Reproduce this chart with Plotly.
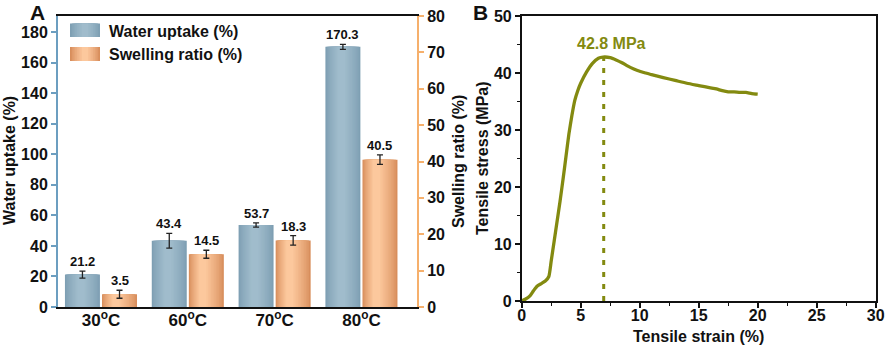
import plotly.graph_objects as go

# ---------------- data ----------------
categories = ["30<sup>o</sup>C", "60<sup>o</sup>C", "70<sup>o</sup>C", "80<sup>o</sup>C"]
water_uptake = [21.2, 43.4, 53.7, 170.3]
water_err = [2.3, 4.8, 1.4, 1.6]
swelling_ratio = [3.5, 14.5, 18.3, 40.5]
swelling_err = [1.1, 1.1, 1.3, 1.3]

strain = [0, 0.3, 0.7, 1.0, 1.3, 1.7, 2.0, 2.3, 2.5, 2.75, 3.0, 3.25, 3.5, 3.75, 4.0,
          4.25, 4.5, 4.75, 5.0, 5.5, 6.0, 6.5, 6.9, 7.5, 8.0, 8.5, 9.0, 9.5, 10.0,
          10.5, 11.0, 12.0, 13.0, 14.0, 15.0, 16.0, 16.5, 17.0, 17.5, 18.0, 18.5,
          19.0, 19.5, 20.0]
stress = [0, 0.3, 0.9, 1.8, 2.6, 3.1, 3.5, 4.3, 7.0, 10.5, 14.0, 17.5, 21.3, 25.3, 29.3,
          32.5, 35.2, 36.9, 38.2, 40.2, 41.7, 42.6, 42.8, 42.7, 42.3, 41.8, 41.2, 40.7,
          40.3, 40.0, 39.7, 39.2, 38.7, 38.2, 37.8, 37.4, 37.2, 36.9, 36.7, 36.7, 36.6,
          36.6, 36.4, 36.3]
peak_strain = 6.95
peak_stress = 42.8

# ---------------- style ----------------
W, H = 886, 347
FONT = "Liberation Sans, Arial, sans-serif"
BLUE_AX = "#6c9ec0"
ORANGE_AX = "#f6b06c"
WATER_EDGE, WATER_MID = (126, 159, 179), (160, 188, 204)
SWELL_EDGE, SWELL_MID = (216, 142, 92), (252, 200, 157)
OLIVE = "#838a10"

def px(x):
    return x / W

def py(y):
    return 1 - y / H

def mix(c1, c2, t):
    return "rgb(%d,%d,%d)" % tuple(round(a + (b - a) * t) for a, b in zip(c1, c2))

idx = list(range(len(categories)))
BW = 0.403
OFF_W = -0.415
OFF_S = 0.012
N_LAYERS = 12

fig = go.Figure()

def add_bars(values, errs, yaxis, offset, edge, mid, shift):
    for k in range(N_LAYERS):
        f = 1.0 - 0.8 * k / (N_LAYERS - 1)
        t = (k / (N_LAYERS - 1)) ** 0.8
        w = BW * f
        off = offset + (BW - w) / 2 + shift * (1 - f)
        fig.add_trace(go.Bar(
            x=idx, y=values, xaxis="x", yaxis=yaxis, width=w, offset=off,
            marker=dict(color=mix(edge, mid, t), line=dict(width=0)),
            hoverinfo="skip", showlegend=False,
        ))
    # transparent carrier for the error bars
    fig.add_trace(go.Bar(
        x=idx, y=values, xaxis="x", yaxis=yaxis, width=BW, offset=offset,
        marker=dict(color="rgba(0,0,0,0)", line=dict(width=0)),
        error_y=dict(type="data", array=errs, color="#222", thickness=1.3, width=3),
        showlegend=False,
    ))

add_bars(water_uptake, water_err, "y", OFF_W, WATER_EDGE, WATER_MID, -0.02)
add_bars(swelling_ratio, swelling_err, "y2", OFF_S, SWELL_EDGE, SWELL_MID, -0.05)

fig.add_trace(go.Scatter(
    x=strain, y=stress, xaxis="x2", yaxis="y3", mode="lines",
    line=dict(color=OLIVE, width=3.3, shape="spline", smoothing=0.5),
    showlegend=False,
))
fig.add_trace(go.Scatter(
    x=[peak_strain, peak_strain], y=[0, peak_stress], xaxis="x2", yaxis="y3",
    mode="lines", line=dict(color=OLIVE, width=3, dash="5px,7px"),
    showlegend=False,
))

annotations = []
bold = dict(family=FONT, color="#111", weight="bold")

for i in idx:
    annotations.append(dict(
        x=i + OFF_W + BW / 2, y=water_uptake[i] + water_err[i], xref="x", yref="y",
        text=f"{water_uptake[i]:.1f}", showarrow=False, xanchor="center", yanchor="bottom",
        font=dict(bold, size=13)))
    annotations.append(dict(
        x=i + OFF_S + BW / 2, y=swelling_ratio[i] + swelling_err[i], xref="x", yref="y2",
        text=f"{swelling_ratio[i]:.1f}", showarrow=False, xanchor="center", yanchor="bottom",
        font=dict(bold, size=13)))

annotations.append(dict(
    x=peak_strain + 0.7, y=peak_stress + 2.4, xref="x2", yref="y3",
    text="42.8 MPa", showarrow=False, xanchor="center", yanchor="middle",
    font=dict(family=FONT, size=16, color=OLIVE, weight="bold")))

def ptext(x, y, text, size=16, angle=0, xanchor="center"):
    return dict(x=px(x), y=py(y), xref="paper", yref="paper", text=text,
                textangle=angle, showarrow=False, xanchor=xanchor, yanchor="middle",
                font=dict(bold, size=size))

annotations += [
    ptext(10, 161, "Water uptake (%)", angle=-90),
    ptext(459, 161, "Swelling ratio (%)", angle=-90),
    ptext(482, 158, "Tensile stress (MPa)", angle=-90),
    ptext(698, 336, "Tensile strain (%)"),
    ptext(37, 13, "A", size=21),
    ptext(480, 12, "B", size=21),
    ptext(107, 31, "Water uptake (%)", xanchor="left"),
    ptext(107, 54, "Swelling ratio (%)", xanchor="left"),
]

def swatch(y0, y1, edge, mid):
    out = []
    n = 8
    for k in range(n):
        f = 1.0 - 0.8 * k / (n - 1)
        half = 15 * f
        out.append(dict(type="rect", xref="paper", yref="paper",
                        x0=px(85 - half), x1=px(85 + half), y0=py(y1), y1=py(y0),
                        fillcolor=mix(edge, mid, (k / (n - 1)) ** 0.8), line=dict(width=0)))
    return out

shapes = swatch(23.5, 37, WATER_EDGE, WATER_MID) + swatch(47, 61, SWELL_EDGE, SWELL_MID)

tickfont = dict(family=FONT, size=16, color="#111", weight="bold")

fig.update_layout(
    width=W, height=H, autosize=False,
    margin=dict(l=0, r=0, t=0, b=0, pad=0, autoexpand=False),
    paper_bgcolor="white", plot_bgcolor="white",
    barmode="overlay",
    showlegend=False,
    font=dict(family=FONT),
    annotations=annotations,
    shapes=shapes,
    xaxis=dict(
        domain=[px(58), px(417)], anchor="y", range=[-0.495, 3.64], automargin=False,
        tickmode="array", tickvals=idx, ticktext=categories,
        tickfont=dict(family=FONT, size=17, color="#111", weight="bold"),
        ticklabelstandoff=-3,
        showline=True, linecolor="#111", linewidth=2, mirror=True,
        ticks="", showgrid=False, zeroline=False,
    ),
    yaxis=dict(
        domain=[py(307), py(16)], anchor="x", range=[0, 190.5], automargin=False,
        dtick=20, tick0=0, ticks="outside", ticklen=5, tickwidth=1.5, tickcolor=BLUE_AX,
        showline=True, linecolor=BLUE_AX, linewidth=2,
        showgrid=False, zeroline=False, tickfont=tickfont,
    ),
    yaxis2=dict(
        overlaying="y", anchor="x", side="right", range=[0, 80], automargin=False,
        dtick=10, tick0=0, ticks="outside", ticklen=5, tickwidth=1.5, tickcolor=ORANGE_AX,
        showline=True, linecolor=ORANGE_AX, linewidth=2,
        showgrid=False, zeroline=False, tickfont=tickfont,
    ),
    xaxis2=dict(
        domain=[px(521.7), px(875.7)], anchor="y3", range=[0, 30], automargin=False,
        dtick=5, tick0=0, ticks="outside", ticklen=5, tickwidth=1.5, tickcolor="#111",
        minor=dict(dtick=2.5, ticks="outside", ticklen=3, tickwidth=1, tickcolor="#111"),
        ticklabelstandoff=-6,
        showline=True, linecolor="#111", linewidth=1.5, mirror=True,
        showgrid=False, zeroline=False, tickfont=tickfont,
    ),
    yaxis3=dict(
        domain=[py(301), py(16)], anchor="x2", range=[0, 50], automargin=False,
        dtick=10, tick0=0, ticks="outside", ticklen=5, tickwidth=1.5, tickcolor="#111",
        minor=dict(dtick=5, ticks="outside", ticklen=3, tickwidth=1, tickcolor="#111"),
        showline=True, linecolor="#111", linewidth=1.5, mirror=True,
        showgrid=False, zeroline=False, tickfont=tickfont,
    ),
)

fig.write_html(
    "out.html",
    config={"displayModeBar": False},
    post_script="document.body.style.margin='0';document.body.style.overflow='hidden';",
)
